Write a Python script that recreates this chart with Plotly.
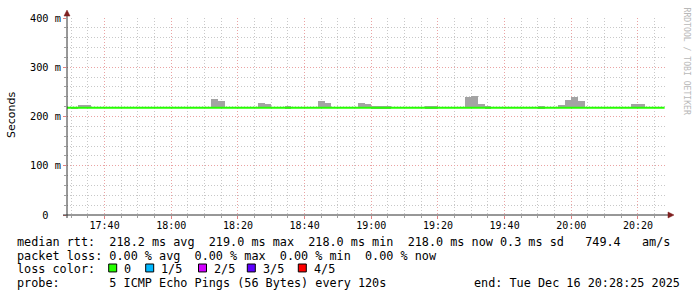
import plotly.graph_objects as go
import pandas as pd

# ---------------- data ----------------
DAY = "2025-12-16 "
range_start = DAY + "17:28:43"
range_end = DAY + "20:28:43"

# median rtt per 2-minute step (ms), step start times 17:28 ... 20:26
median_times = list(pd.date_range(DAY + "17:28:00", DAY + "20:26:00", freq="2min"))
median_rtt = [218.0, 218.0, 218.0, 218.0, 218.0, 218.0, 218.0, 218.0, 218.0, 218.0,
              218.0, 218.0, 218.0, 218.0, 218.0, 218.0, 218.0, 218.0, 218.0, 218.0,
              218.0, 218.0, 218.0, 218.0, 218.0, 218.0, 218.0, 218.0, 218.0, 218.0,
              218.0, 218.0, 218.0, 218.0, 218.0, 218.0, 218.0, 218.0, 218.0, 218.0,
              218.0, 218.0, 218.0, 218.0, 218.0, 218.0, 218.0, 218.0, 218.0, 218.0,
              218.0, 218.0, 218.0, 218.0, 218.0, 218.0, 218.0, 218.0, 218.0, 218.0,
              218.0, 218.0, 218.0, 218.0, 218.0, 218.0, 218.0, 218.0, 218.0, 218.0,
              218.0, 218.0, 218.0, 218.0, 218.0, 218.0, 218.0, 218.0, 218.0, 218.0,
              218.0, 218.0, 218.0, 218.0, 218.0, 218.0, 218.0, 218.0, 218.0, 218.0]

# smoke (ping spread) steps that rise above the median
smoke_start = ["17:30", "17:32", "17:34", "18:12", "18:14", "18:26", "18:28", "18:34",
               "18:44", "18:46", "18:56", "18:58", "19:00", "19:02", "19:04", "19:16",
               "19:18", "19:28", "19:30", "19:32", "19:34", "19:50", "19:56", "19:58",
               "20:00", "20:02", "20:18", "20:20"]
smoke_top = [220, 223, 223, 235, 231, 227, 225, 221,
             231, 227, 227, 225, 221, 221, 221, 221,
             221, 239, 241, 225, 221, 221, 223, 233,
             239, 231, 225, 225]
smoke_low = 217

y_tickvals = [0, 100, 200, 300, 400]
y_ticktext = ["0\u00a0\u00a0", "100\u00a0m", "200\u00a0m", "300\u00a0m", "400\u00a0m"]

legend_rows = [
    "median rtt:  218.2 ms avg  219.0 ms max  218.0 ms min  218.0 ms now 0.3 ms sd   749.4   am/s",
    "packet loss: 0.00 % avg  0.00 % max  0.00 % min  0.00 % now",
    "loss color:",
    "probe:       5 ICMP Echo Pings (56 Bytes) every 120s",
]
end_text = "end: Tue Dec 16 20:28:25 2025"
loss_labels = ["0", "1/5", "2/5", "3/5", "4/5"]
loss_colors = ["#26ff00", "#00b8ff", "#d200ff", "#5e00ff", "#ff0000"]

# ---------------- layout geometry ----------------
W, H = 697, 297
L, R, T, B = 67, 30, 16, 82
PW = W - L - R
PH = H - T - B
MONO = "DejaVu Sans Mono"


def px(x):
    return (x - L) / PW


def py(y):
    return (H - B - y) / PH


fig = go.Figure()

fig.add_trace(go.Bar(
    x=[DAY + s for s in smoke_start],
    y=[v - smoke_low for v in smoke_top],
    base=smoke_low,
    width=120000,
    offset=0,
    marker=dict(color="#a3a3a3", line=dict(width=0)),
    hoverinfo="skip",
    showlegend=False,
))

fig.add_trace(go.Scatter(
    x=median_times + [pd.Timestamp(DAY + "20:28:00")],
    y=median_rtt + [median_rtt[-1]],
    mode="lines",
    line=dict(color="#26ff00", width=2, shape="hv"),
    hoverinfo="skip",
    showlegend=False,
))

grid_major = "#eaa3a3"
grid_minor = "#c8c8c8"

fig.update_xaxes(
    type="date",
    range=[range_start, range_end],
    tick0=DAY + "17:40:00",
    dtick=20 * 60 * 1000,
    tickformat="%H:%M",
    showgrid=True, gridcolor=grid_major, griddash="1px,2px", gridwidth=1,
    ticks="outside", ticklen=3, tickcolor="#e08080",
    ticklabelstandoff=-2,
    tickfont=dict(family=MONO, size=10, color="#000000"),
    minor=dict(dtick=5 * 60 * 1000, tick0=DAY + "17:40:00", showgrid=True,
               gridcolor=grid_minor, griddash="1px,2px", gridwidth=1,
               ticks="outside", ticklen=2, tickcolor="#a0a0a0"),
    showline=False, zeroline=False, fixedrange=True,
)
fig.update_yaxes(
    range=[0, 400],
    tickvals=y_tickvals, ticktext=y_ticktext,
    showgrid=True, gridcolor=grid_major, griddash="1px,2px", gridwidth=1,
    ticks="outside", ticklen=3, tickcolor="#e08080",
    tickfont=dict(family=MONO, size=10.3, color="#000000"),
    minor=dict(dtick=20, tick0=0, showgrid=True, gridcolor=grid_minor,
               griddash="1px,2px", gridwidth=1, ticks="outside", ticklen=2,
               tickcolor="#a0a0a0"),
    showline=False, zeroline=False, fixedrange=True,
)

shapes = []
axis_col = "#303030"
arrow_col = "#7f1f1f"
# axis lines
shapes.append(dict(type="line", xref="paper", yref="paper",
                   x0=px(63), x1=px(669), y0=py(215), y1=py(215),
                   line=dict(color=axis_col, width=1)))
shapes.append(dict(type="line", xref="paper", yref="paper",
                   x0=px(67), x1=px(67), y0=py(218), y1=py(12),
                   line=dict(color=axis_col, width=1)))
# arrows
shapes.append(dict(type="path", xref="paper", yref="paper",
                   path=f"M {px(64)} {py(14)} L {px(70)} {py(14)} L {px(67)} {py(8)} Z",
                   fillcolor=arrow_col, line=dict(color=arrow_col, width=0.5)))
shapes.append(dict(type="path", xref="paper", yref="paper",
                   path=f"M {px(668)} {py(212)} L {px(668)} {py(218)} L {px(674)} {py(215)} Z",
                   fillcolor=arrow_col, line=dict(color=arrow_col, width=0.5)))

annotations = []
# y-axis title
annotations.append(dict(text="Seconds", xref="paper", yref="paper",
                        x=px(11), y=py(114), xanchor="center", yanchor="middle",
                        textangle=-90, showarrow=False,
                        font=dict(family="DejaVu Sans", size=11, color="#000000")))
# watermark
annotations.append(dict(text="RRDTOOL / TOBI OETIKER", xref="paper", yref="paper",
                        x=px(687), y=py(59), xanchor="center", yanchor="middle",
                        textangle=90, showarrow=False,
                        font=dict(family=MONO, size=8.1, color="#b8b8b8")))

row_y = [242, 256, 270, 284]
for text, yy in zip(legend_rows, row_y):
    annotations.append(dict(text=text.replace(" ", "\u00a0"), xref="paper", yref="paper",
                            x=px(15.5), y=py(yy), xanchor="left", yanchor="middle",
                            showarrow=False, borderpad=0,
                            font=dict(family=MONO, size=11.8, color="#000000")))
annotations.append(dict(text=end_text.replace(" ", "\u00a0"), xref="paper", yref="paper",
                        x=px(681), y=py(284), xanchor="right", yanchor="middle",
                        showarrow=False, borderpad=0,
                        font=dict(family=MONO, size=11.8, color="#000000")))

box_x = [108.7, 145.7, 198.5, 247.3, 298.3]
for lbl, col, bx in zip(loss_labels, loss_colors, box_x):
    shapes.append(dict(type="rect", xref="paper", yref="paper",
                       x0=px(bx), x1=px(bx + 8), y0=py(272.5), y1=py(264.5),
                       fillcolor=col, line=dict(color="#000000", width=1)))
    annotations.append(dict(text=lbl, xref="paper", yref="paper",
                            x=px(bx + 14.3), y=py(270), xanchor="left", yanchor="middle",
                            showarrow=False, borderpad=0,
                            font=dict(family=MONO, size=11.8, color="#000000")))

fig.update_layout(
    width=W, height=H,
    margin=dict(l=L, r=R, t=T, b=B, pad=0),
    paper_bgcolor="#ffffff", plot_bgcolor="#ffffff",
    bargap=0, barmode="overlay",
    shapes=shapes, annotations=annotations,
    showlegend=False,
)

fig.write_html("out.html", config={"displayModeBar": False})
